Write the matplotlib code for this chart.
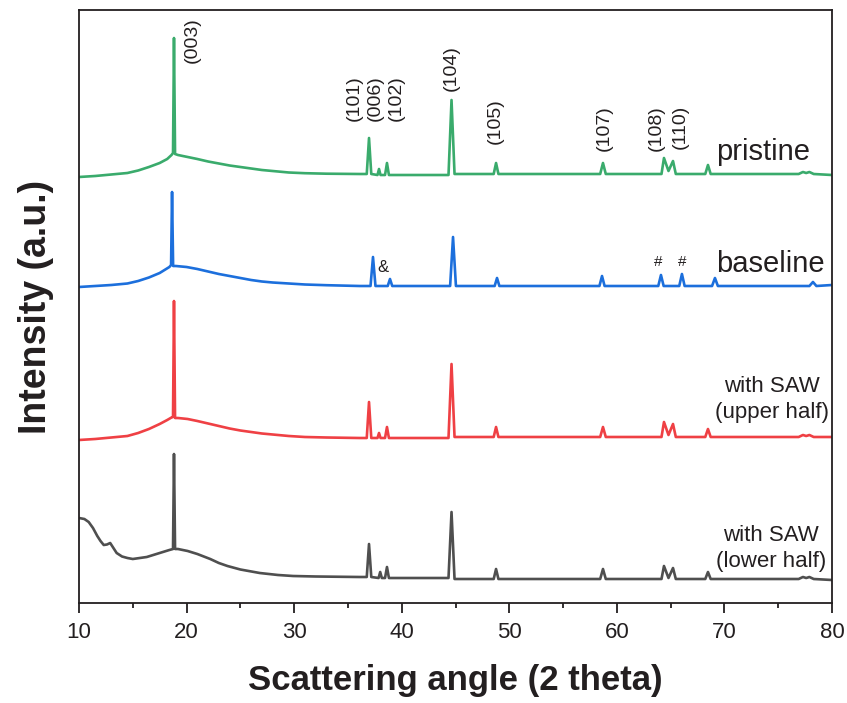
import matplotlib
matplotlib.use("Agg")
import matplotlib.pyplot as plt
from matplotlib.ticker import MultipleLocator

plt.rcParams['font.family'] = ['Liberation Sans', 'DejaVu Sans']

# XRD patterns, stacked (arbitrary intensity units)
green_x = [10.0, 11.5, 13.0, 14.5, 15.5, 16.5, 17.5, 18.2, 18.6, 18.74, 18.83, 18.93, 19.2, 20.1, 21.0,
           22.0, 23.0, 24.0, 25.0, 26.0, 27.0, 28.0, 29.5, 31.0, 33.0, 36.1, 36.75, 36.96,
           37.17, 37.75, 37.89, 38.03, 38.45, 38.63, 38.81, 44.35, 44.63, 44.91, 48.55, 48.77, 48.99, 58.45,
           58.71, 58.97, 64.15, 64.38, 64.8, 65.22, 65.48, 68.22, 68.47, 68.72, 76.9, 77.3, 77.6, 77.9, 78.3, 80.0]
green_y = [426, 427, 428.5, 430, 432.5, 436, 440, 444, 448, 450, 565, 449, 448, 446, 444,
           441.5, 439.5, 437.5, 436, 434.5, 433, 432, 430.5, 429.8, 429.3, 429, 429, 465,
           429, 428, 434, 428, 428, 440, 428, 428, 503, 429, 429, 440, 429, 429,
           440, 429, 429, 445, 432, 442, 429, 429, 438, 429, 429, 431, 430, 431, 429, 428]

blue_x = [10.0, 11.5, 13.0, 14.5, 15.5, 16.5, 17.5, 18.1, 18.4, 18.56, 18.65, 18.75, 19.0, 20.0, 21.0,
          22.0, 23.0, 24.0, 25.0, 26.0, 27.0, 28.0, 29.5, 31.0, 33.0, 36.1, 37.1, 37.33,
          37.56, 38.7, 38.91, 39.12, 44.5, 44.77, 45.04, 48.64, 48.86, 49.08, 58.38, 58.62, 58.86, 63.85,
          64.1, 64.35, 65.8, 66.05, 66.3, 68.85, 69.12, 69.39, 77.9, 78.23, 78.55, 80.0]
blue_y = [316, 317, 318, 319.5, 322, 325.5, 330, 334, 336, 338, 411, 337, 337, 336, 334,
          331.5, 329, 327, 325, 323, 321.5, 320.5, 319.5, 318.5, 317.8, 317, 317, 346,
          317, 317, 324, 317, 317, 366, 317, 317, 325, 317, 317, 327, 317, 317,
          328, 317, 317, 329, 317, 317, 325, 317, 317, 321, 317, 318]

red_x = [10.0, 11.5, 13.0, 14.5, 15.5, 16.5, 17.5, 18.2, 18.6, 18.74, 18.83, 18.93, 19.2, 20.1, 21.0,
         22.0, 23.0, 24.0, 25.0, 26.0, 27.0, 28.0, 29.5, 31.0, 33.0, 36.1, 36.75, 36.96,
         37.17, 37.75, 37.89, 38.03, 38.45, 38.63, 38.81, 44.35, 44.63, 44.91, 48.55, 48.77, 48.99, 58.45,
         58.71, 58.97, 64.15, 64.38, 64.8, 65.22, 65.48, 68.22, 68.47, 68.72, 76.9, 77.3, 77.6, 77.9, 78.3, 80.0]
red_y = [163, 164, 165.5, 167, 170, 174, 179, 183, 185.5, 186, 302, 185, 185, 184, 182,
         179.5, 177, 174.5, 172.5, 171, 169.5, 168.5, 167, 166, 165.5, 165, 165, 201,
         165, 165, 170, 165, 165, 176, 165, 165, 239, 166, 166, 176, 166, 166,
         176, 166, 166, 181, 168, 179, 166, 166, 174, 166, 166, 168, 167, 168, 166, 166]

gray_x = [10.0, 10.5, 10.9, 11.3, 11.7, 12.0, 12.3, 12.6, 12.9, 13.2, 13.5, 14.0, 14.5, 15.0, 16.3,
          17.5, 18.4, 18.74, 18.83, 18.93, 19.2, 20.1, 21.0, 22.2, 23.0, 23.8, 25.0, 26.8, 28.5,
          29.9, 32.0, 36.1, 36.75, 36.96, 37.17, 37.85, 38.0, 38.15, 38.45, 38.63,
          38.81, 44.35, 44.63, 44.91, 48.55, 48.77, 48.99, 58.45, 58.71, 58.97, 64.15, 64.38, 64.8, 65.22,
          65.48, 68.22, 68.47, 68.72, 76.9, 77.3, 77.6, 77.9, 78.3, 80.0]
gray_y = [85, 84, 81, 75, 67, 62, 58, 58.5, 60, 55, 50, 46.5, 45, 44, 46,
          50, 53, 54, 149, 54, 54, 52, 49, 44, 40, 37, 33.5, 30, 28,
          27, 26.5, 26, 26, 59, 26, 25, 31, 25, 25, 36,
          25, 25, 91, 24, 24, 34, 24, 24, 34, 24, 24, 37, 25, 35,
          24, 24, 31, 24, 24, 26, 25, 26, 24, 23]

# Miller index labels (x position, bottom of text)
hkl_labels = ['(003)', '(101)', '(006)', '(102)', '(104)', '(105)', '(107)', '(108)', '(110)']
hkl_x = [20.5, 35.6, 37.5, 39.5, 44.6, 48.7, 58.8, 63.7, 65.9]
hkl_y = [540, 482, 482, 482, 512, 459, 452, 452, 454]

txt = '#231f20'

fig = plt.figure(figsize=(8.47, 7.03), dpi=100)
ax = fig.add_axes([79/847, 1-603/703, (832-79)/847, (603-10)/703])

ax.plot(green_x, green_y, color='#3aab6c', lw=1.9)
ax.plot(blue_x, blue_y, color='#1c6fdc', lw=1.9)
ax.plot(red_x, red_y, color='#ef4044', lw=1.9)
ax.plot(gray_x, gray_y, color='#4f4f4f', lw=1.9)

for lab, x, y in zip(hkl_labels, hkl_x, hkl_y):
    ax.text(x, y, lab, rotation=90, ha='center', va='bottom', fontsize=14, color=txt)

ax.text(69.2, 443, 'pristine', fontsize=21, color=txt, ha='left', va='baseline')
ax.text(69.2, 331, 'baseline', fontsize=21, color=txt, ha='left', va='baseline')
ax.text(74.4, 211, 'with SAW', fontsize=16, color=txt, ha='center', va='baseline')
ax.text(74.4, 185, '(upper half)', fontsize=16, color=txt, ha='center', va='baseline')
ax.text(74.3, 62, 'with SAW', fontsize=16, color=txt, ha='center', va='baseline')
ax.text(74.3, 36, '(lower half)', fontsize=16, color=txt, ha='center', va='baseline')

ax.text(38.26, 335, '&', fontsize=12, color=txt, ha='center', va='center')
ax.text(63.83, 341, '#', fontsize=11, color=txt, ha='center', va='center')
ax.text(66.06, 341, '#', fontsize=11, color=txt, ha='center', va='center')

ax.set_xlim(10, 80)
ax.set_ylim(0, 593)
ax.set_yticks([])
ax.xaxis.set_major_locator(MultipleLocator(10))
ax.xaxis.set_minor_locator(MultipleLocator(5))
ax.tick_params(axis='x', which='major', direction='out', length=7, width=1.3, pad=7,
               labelsize=16, colors=txt)
ax.tick_params(axis='x', which='minor', direction='out', length=3.6, width=1.3, colors=txt)
for s in ax.spines.values():
    s.set_linewidth(1.3)
    s.set_color(txt)

ax.set_xlabel('Scattering angle (2 theta)', fontsize=25, fontweight='bold', color=txt, labelpad=14.5)
ax.set_ylabel('Intensity (a.u.)', fontsize=27, fontweight='bold', color=txt, labelpad=18)

fig.savefig('out.png', dpi=100)
